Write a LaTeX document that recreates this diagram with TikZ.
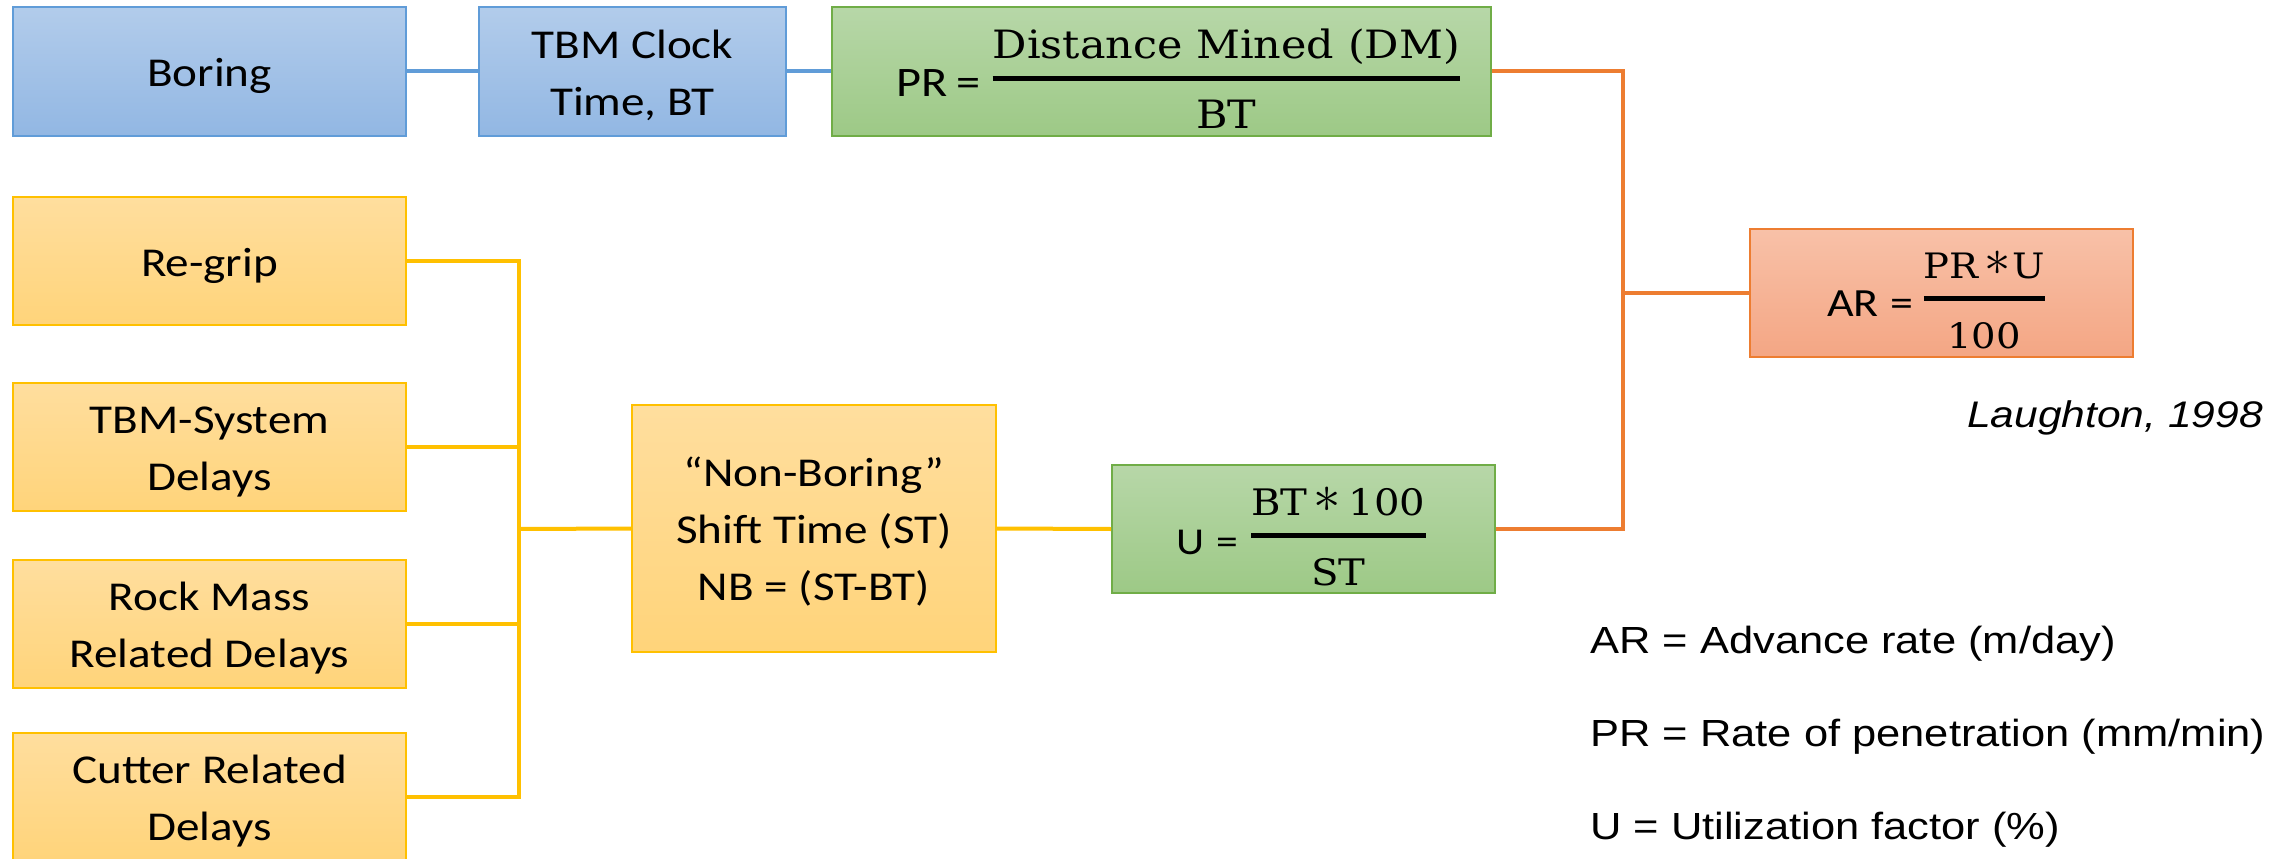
\RequirePackage{fix-cm}
\documentclass[tikz,border=0pt]{standalone}
\usepackage{amsmath}
\usepackage{graphicx}
\usepackage{fontspec}
\newfontfamily\calib[FakeStretch=1.15]{Carlito}
\newfontfamily\arl[FakeStretch=1.15]{Liberation Sans}
\newfontfamily\cambr[FakeStretch=1.1]{DejaVu Serif}

\definecolor{blueTop}{RGB}{178,204,235}
\definecolor{blueBot}{RGB}{146,183,227}
\definecolor{blueEdge}{RGB}{96,156,216}
\definecolor{greenTop}{RGB}{183,215,168}
\definecolor{greenBot}{RGB}{157,201,134}
\definecolor{greenEdge}{RGB}{112,173,71}
\definecolor{goldTop}{RGB}{255,222,158}
\definecolor{goldBot}{RGB}{255,212,122}
\definecolor{goldEdge}{RGB}{255,192,0}
\definecolor{peachTop}{RGB}{248,193,168}
\definecolor{peachBot}{RGB}{244,166,132}
\definecolor{peachEdge}{RGB}{237,125,49}

% multi-line box label, baseline block sitting a little below the centre
\newcommand\btext[1]{\raisebox{0pt}[\height][\dimexpr\depth-8pt\relax]{\begin{tabular}{@{}c@{}}#1\end{tabular}}}
% left-hand side of an equation in the box font
\newcommand\lhs[2]{{\calib\fontsize{#1pt}{#1pt}\selectfont #2}}
% fraction with a heavy bar: size, raise, numerator, denominator
\newcommand\frc[4]{\raisebox{#2pt}{\fontsize{#1pt}{#1pt}\selectfont$\genfrac{}{}{5pt}{0}{\hbox{\raisebox{0pt}[\height][0pt]{\cambr #3}\rule[-2pt]{0pt}{2pt}}}{\hbox{\rule{0pt}{33pt}\cambr #4}}$}}
\newcommand\opast{\raisebox{3.5pt}{\scalebox{1.5}{$\ast$}}}

\tikzset{
  box/.style={rectangle, line width=2pt, inner sep=0pt,
    font=\calib\fontsize{41pt}{57pt}\selectfont, text=black},
  bluebox/.style={box, draw=blueEdge, top color=blueTop, bottom color=blueBot},
  greenbox/.style={box, draw=greenEdge, top color=greenTop, bottom color=greenBot},
  goldbox/.style={box, draw=goldEdge, top color=goldTop, bottom color=goldBot},
  peachbox/.style={box, draw=peachEdge, top color=peachTop, bottom color=peachBot},
  eqn/.style={inner sep=0pt, anchor=base west, text=black},
  legend/.style={inner sep=0pt, text=black, font=\arl\fontsize{37.8pt}{45pt}\selectfont},
  link/.style={line width=4pt, line join=miter},
  bluelink/.style={link, draw=blueEdge},
  goldlink/.style={link, draw=goldEdge},
  peachlink/.style={link, draw=peachEdge},
}

\begin{document}
\begin{tikzpicture}[x=1pt, y=-1pt]
\fill[white] (0,0) rectangle (2281,859);
\useasboundingbox (0,0) rectangle (2281,859);

% top row: boring time chain
\node[bluebox, minimum width=393pt, minimum height=129pt] (boring) at (209.5,71.5) {\btext{Boring}};
\node[bluebox, minimum width=307pt, minimum height=129pt] (tbm) at (632.5,71.5) {\btext{TBM Clock\\Time, BT}};
\node[greenbox, minimum width=659pt, minimum height=129pt] (pr) at (1161.5,71.5) {};
\node[eqn] (prf) at (896,96) {\lhs{42}{PR\hspace{9pt}=}\hspace{11pt}\frc{39}{8.25}{Distance Mined (DM)}{BT}};

% advance rate
\node[peachbox, minimum width=383pt, minimum height=128pt] (ar) at (1941.5,293) {};
\node[eqn] (arf) at (1827,316) {\lhs{40}{AR\hspace{12pt}=}\hspace{9pt}\frc{35}{9}{PR\kern6pt\opast\kern1pt U}{100}};
\node[legend, font=\arl\itshape\fontsize{37pt}{44pt}\selectfont, anchor=base east] (cite) at (2263,427) {Laughton, 1998};

% delay sources
\node[goldbox, minimum width=393pt, minimum height=128pt] (regrip) at (209.5,261) {\btext{Re-grip}};
\node[goldbox, minimum width=393pt, minimum height=128pt] (tbmsys) at (209.5,447) {\btext{TBM-System\\Delays}};
\node[goldbox, minimum width=393pt, minimum height=128pt] (rock) at (209.5,624) {\btext{Rock Mass\\Related Delays}};
\node[goldbox, minimum width=393pt, minimum height=128pt] (cutter) at (209.5,797) {\btext{Cutter Related\\Delays}};

% non-boring time and utilization
\node[goldbox, minimum width=364pt, minimum height=247pt] (nb) at (814,528.5) {\btext{“Non-Boring”\\Shift Time (ST)\\NB = (ST-BT)}};
\node[greenbox, minimum width=383pt, minimum height=128pt] (u) at (1303.5,529) {};
\node[eqn] (uf) at (1176,554) {\lhs{38}{U\hspace{12pt}=}\hspace{12pt}\frc{36.5}{9.75}{BT\kern6pt\opast\kern8pt 100}{ST}};

% legend
\node[legend, anchor=base west] (lgar) at (1590,653) {AR = Advance rate (m/day)};
\node[legend, anchor=base west] (lgpr) at (1590,746) {PR = Rate of penetration (mm/min)};
\node[legend, anchor=base west] (lgu) at (1590,839) {U = Utilization factor (\%)};

% junctions
\coordinate (yj) at (519,529);
\coordinate (oj) at (1623,293);

% connectors
\draw[bluelink] (boring.east) -- (tbm.west);
\draw[bluelink] (tbm.east) -- (pr.west);

\draw[goldlink] (regrip.east) -| (yj);
\draw[goldlink] (cutter.east) -| (yj);
\draw[goldlink] (tbmsys.east) -- (tbmsys.east -| yj);
\draw[goldlink] (rock.east) -- (rock.east -| yj);
\draw[goldlink] (yj) -- (nb.west);
\draw[goldlink] (nb.east) -- (u.west);

\draw[peachlink] (pr.east) -| (oj) |- (u.east);
\draw[peachlink] (oj) -- (ar.west);
\end{tikzpicture}
\end{document}
